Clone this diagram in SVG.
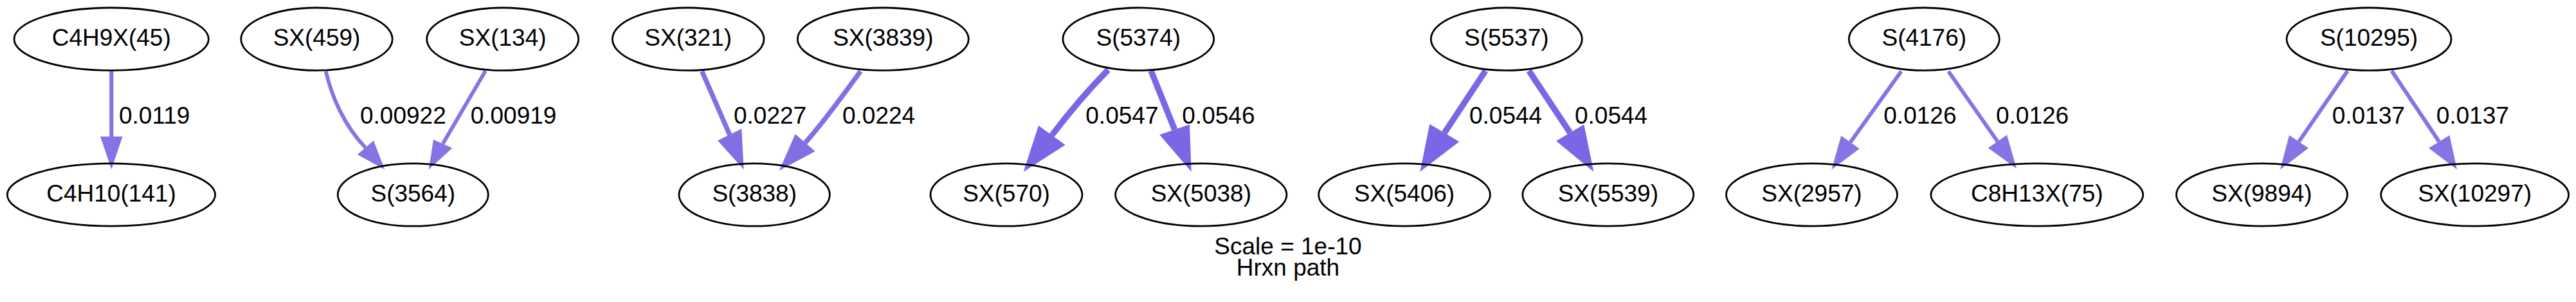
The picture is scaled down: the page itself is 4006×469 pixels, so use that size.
<svg xmlns="http://www.w3.org/2000/svg" width="4006" height="469" viewBox="0 0 4006 469">
<style>
text{font-family:"Liberation Sans",Arial,Helvetica,sans-serif;font-size:37px;fill:#000}
.n ellipse{fill:none;stroke:#000;stroke-width:2.8}
.n text{text-anchor:middle}
.e path{fill:none;stroke-linecap:butt}
.c1 path{stroke:#8773e3}
.c1 polygon{fill:#8773e3}
.c2 path{stroke:#8170e4}
.c2 polygon{fill:#8170e4}
.c3 path{stroke:#7b66e6}
.c3 polygon{fill:#7b66e6}
</style>
<rect width="4006" height="469" fill="#fff"/>
<g id="connectors">
<g class="e c1"><path d="M173.3,110.7 L173.3,214" stroke-width="6.2"/><polygon points="156,212 190.6,212 173.3,263"/><text x="185" y="191.7">0.0119</text></g>
<g class="e c1"><path d="M506.7,110.7 C516,150 535,195 568.4,229.2" stroke-width="5.8"/><polygon points="555.7,240 581,218.3 598.3,263.3"/><text x="560" y="191.7">0.00922</text></g>
<g class="e c1"><path d="M755,110 L688.7,223.3" stroke-width="5.8"/><polygon points="674,216.7 703.3,230 666.7,263.3"/><text x="731.7" y="191.7">0.00919</text></g>
<g class="e c2"><path d="M1091.7,110.7 L1134.7,209.2" stroke-width="7.5"/><polygon points="1116,218.3 1153.3,200 1156.7,263.3"/><text x="1141" y="191.7">0.0227</text></g>
<g class="e c2"><path d="M1338.3,110.7 C1320,135 1285,185 1252.2,221.7" stroke-width="7.5"/><polygon points="1236.7,208.3 1267.7,235 1211.7,265"/><text x="1310" y="191.7">0.0224</text></g>
<g class="e c3"><path d="M1723.3,108.3 C1700,132 1670,165 1635.8,210" stroke-width="9.5"/><polygon points="1615,195 1656.7,225 1591.7,266.7"/><text x="1688.3" y="191.7">0.0547</text></g>
<g class="e c3"><path d="M1790,110 L1826.7,201.3" stroke-width="9.5"/><polygon points="1803.3,209.3 1850,193.3 1852.7,266.7"/><text x="1838.3" y="191.7">0.0546</text></g>
<g class="e c3"><path d="M2310,110 L2246.3,206.3" stroke-width="9.5"/><polygon points="2223.3,192.7 2269.3,220 2208.3,266.7"/><text x="2285" y="191.7">0.0544</text></g>
<g class="e c3"><path d="M2377.7,110 L2441.7,206.2" stroke-width="9.5"/><polygon points="2420,219 2463.3,193.3 2478.3,266.7"/><text x="2449" y="191.7">0.0544</text></g>
<g class="e c1"><path d="M2956.7,110.7 L2877.5,220.9" stroke-width="6"/><polygon points="2863.3,210.7 2891.7,231 2848.3,263.3"/><text x="2929.3" y="191.7">0.0126</text></g>
<g class="e c1"><path d="M3030,110.7 L3106.4,219.6" stroke-width="6"/><polygon points="3091.8,229.8 3121,209.4 3136,261.7"/><text x="3104" y="191.7">0.0126</text></g>
<g class="e c1"><path d="M3650.9,110 L3575,220" stroke-width="6"/><polygon points="3560,210 3590,230 3546,263.3"/><text x="3626.7" y="191.7">0.0137</text></g>
<g class="e c1"><path d="M3719.3,110 L3793.1,220" stroke-width="6"/><polygon points="3776.9,230 3809.3,210 3821,263.3"/><text x="3788.7" y="191.7">0.0137</text></g>
</g>
<g id="C4H9X45" class="n"><ellipse cx="173.2" cy="60.7" rx="151.2" ry="48.7"/><text x="173.2" y="71">C4H9X(45)</text></g>
<g id="C4H10_141" class="n"><ellipse cx="173" cy="302.5" rx="161.7" ry="48.7"/><text x="173" y="313">C4H10(141)</text></g>
<g id="SX459" class="n"><ellipse cx="492.5" cy="60.7" rx="117.7" ry="48.7"/><text x="492.5" y="71">SX(459)</text></g>
<g id="SX134" class="n"><ellipse cx="781.7" cy="60.7" rx="118" ry="48.7"/><text x="781.7" y="71">SX(134)</text></g>
<g id="S3564" class="n"><ellipse cx="642.3" cy="302.5" rx="117" ry="48.7"/><text x="642.3" y="313">S(3564)</text></g>
<g id="SX321" class="n"><ellipse cx="1070.2" cy="60.7" rx="117.8" ry="48.7"/><text x="1070.2" y="71">SX(321)</text></g>
<g id="SX3839" class="n"><ellipse cx="1373.3" cy="60.7" rx="133" ry="48.7"/><text x="1373.3" y="71">SX(3839)</text></g>
<g id="S3838" class="n"><ellipse cx="1173.2" cy="302.5" rx="117.2" ry="48.7"/><text x="1173.2" y="313">S(3838)</text></g>
<g id="S5374" class="n"><ellipse cx="1770.3" cy="60.7" rx="117.4" ry="48.7"/><text x="1770.3" y="71">S(5374)</text></g>
<g id="SX570" class="n"><ellipse cx="1565" cy="302.5" rx="118" ry="48.7"/><text x="1565" y="313">SX(570)</text></g>
<g id="SX5038" class="n"><ellipse cx="1867.8" cy="302.5" rx="133.2" ry="48.7"/><text x="1867.8" y="313">SX(5038)</text></g>
<g id="S5537" class="n"><ellipse cx="2342.8" cy="60.7" rx="117.5" ry="48.7"/><text x="2342.8" y="71">S(5537)</text></g>
<g id="SX5406" class="n"><ellipse cx="2184" cy="302.5" rx="133.4" ry="48.7"/><text x="2184" y="313">SX(5406)</text></g>
<g id="SX5539" class="n"><ellipse cx="2500.8" cy="302.5" rx="133" ry="48.7"/><text x="2500.8" y="313">SX(5539)</text></g>
<g id="S4176" class="n"><ellipse cx="2992.3" cy="60.7" rx="117" ry="48.7"/><text x="2992.3" y="71">S(4176)</text></g>
<g id="SX2957" class="n"><ellipse cx="2817.5" cy="302.5" rx="133" ry="48.7"/><text x="2817.5" y="313">SX(2957)</text></g>
<g id="C8H13X75" class="n"><ellipse cx="3167.8" cy="302.5" rx="165" ry="48.7"/><text x="3167.8" y="313">C8H13X(75)</text></g>
<g id="S10295" class="n"><ellipse cx="3684" cy="60.7" rx="128" ry="48.7"/><text x="3684" y="71">S(10295)</text></g>
<g id="SX9894" class="n"><ellipse cx="3517.5" cy="302.5" rx="133" ry="48.7"/><text x="3517.5" y="313">SX(9894)</text></g>
<g id="SX10297" class="n"><ellipse cx="3848.6" cy="302.5" rx="146" ry="48.7"/><text x="3848.6" y="313">SX(10297)</text></g>
<g id="caption"><text x="2003" y="395" text-anchor="middle">Scale = 1e-10</text><text x="2003" y="428" text-anchor="middle">Hrxn path</text></g>
</svg>
